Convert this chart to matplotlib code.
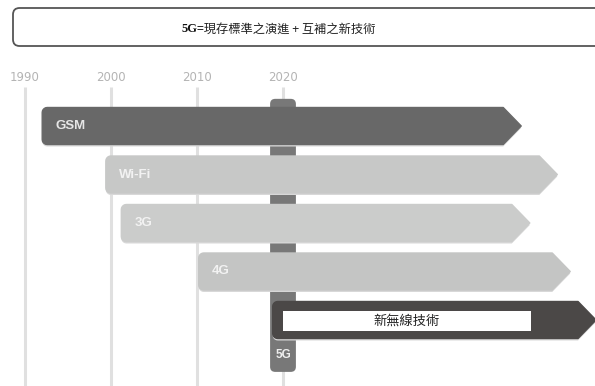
import numpy as np
import matplotlib
matplotlib.use("Agg")
import matplotlib.pyplot as plt
from matplotlib.patches import Polygon, FancyBboxPatch, Rectangle

plt.rcParams['font.family'] = ['Noto Sans CJK TC', 'DejaVu Sans']

# timeline data
decades = [1990, 2000, 2010, 2020]
techs = ["GSM", "Wi-Fi", "3G", "4G", "新無線技術"]
starts = [1992.0, 1999.4, 2001.2, 2010.2, 2018.8]
ends = [2047.7, 2051.9, 2048.7, 2053.4, 2056.4]
colors = ["#686868", "#c7c8c7", "#cbcccb", "#c4c5c4", "#4b4847"]
label_colors = ["#e6e6e6", "#f2f2f2", "#f2f2f2", "#f2f2f2", None]

fiveg_year = 2020
fiveg_top, fiveg_bottom = -0.56, 5.07

# scale: 8.6 px per year, 48.5 px per row
XPX, YPX = 8.6, 48.5
x_lo = 1990 - 25 / XPX
y_lo = -126 / YPX

fig = plt.figure(figsize=(5.95, 3.86), dpi=100)
ax = fig.add_axes([0, 0, 1, 1])
ax.set_xlim(x_lo, x_lo + 595 / XPX)
ax.set_ylim(y_lo + 386 / YPX, y_lo)
ax.axis("off")


def arrow_shape(x0, x1, yc, h, tip, r):
    # chevron with rounded left corners, r given in pixels
    rx, ry = r / XPX, r / YPX
    top, bot = yc - h / 2, yc + h / 2
    pts = [(x1 - tip, top), (x1, yc), (x1 - tip, bot)]
    for a in np.linspace(np.pi / 2, np.pi, 6):
        pts.append((x0 + rx + rx * np.cos(a), bot - ry + ry * np.sin(a)))
    for a in np.linspace(np.pi, 1.5 * np.pi, 6):
        pts.append((x0 + rx + rx * np.cos(a), top + ry + ry * np.sin(a)))
    return pts


# decade grid lines and labels
ax.vlines(decades, -0.80, 6, color="#e0e0e0", lw=2.2, zorder=0)
for d in decades:
    ax.text(d, -1.0, str(d), ha="center", va="center", fontsize=8.5,
            color="#b4b4b4", family="DejaVu Sans")

# 5G column behind the bars
ax.add_patch(FancyBboxPatch((fiveg_year - 1.5, fiveg_top), 3.0, fiveg_bottom - fiveg_top,
                            boxstyle="round,pad=0,rounding_size=0.6",
                            mutation_aspect=XPX / YPX,
                            fc="#787878", ec="none", zorder=1))
ax.text(fiveg_year, 4.72, "5G", ha="center", va="center", fontsize=8.5,
        fontweight="bold", color="#eeeeee", family="Liberation Sans", zorder=5)

h = 37 / YPX
tip = 18 / XPX
for i, (name, s, e, c) in enumerate(zip(techs, starts, ends, colors)):
    # soft shadow under each bar
    shadow = arrow_shape(s, e, i + 2.0 / YPX, h, tip, 5)
    ax.add_patch(Polygon(shadow, closed=True, fc="#d8d8d8", ec="none", zorder=2))
    ax.add_patch(Polygon(arrow_shape(s, e, i, h, tip, 5), closed=True, fc=c, ec=c,
                         lw=1.0, joinstyle="round", zorder=3))
    if label_colors[i] is not None:
        ax.text(s + 1.55, i, name, ha="left", va="center", fontsize=9.5,
                fontweight="bold", color=label_colors[i], family="Liberation Sans", zorder=4)

# label box on the new-radio bar
bx0, bx1 = 2020.0, 2048.8
ax.add_patch(Rectangle((bx0, 4.02 - 0.205), bx1 - bx0, 0.41, fc="white", ec="none", zorder=4))
ax.text((bx0 + bx1) / 2, 4.02, techs[4], ha="center", va="center", fontsize=9.5,
        color="#222222", zorder=5)

# heading box
ax.add_patch(FancyBboxPatch((13 / 595, 1 - 46 / 386), 1.0, 38 / 386,
                            boxstyle="round,pad=0,rounding_size=0.011",
                            mutation_aspect=595 / 386, transform=ax.transAxes,
                            fc="white", ec="#555555", lw=1.3, zorder=5))
ax.text(197 / 595, 1 - 29 / 386, "5G", transform=ax.transAxes, ha="right", va="center",
        fontsize=9, fontweight="bold", family="Liberation Serif", color="#111111", zorder=6)
ax.text(197 / 595, 1 - 29 / 386, "=現存標準之演進 + 互補之新技術", transform=ax.transAxes,
        ha="left", va="center", fontsize=8.8, color="#222222", zorder=6)

fig.savefig("out.png", dpi=100)
